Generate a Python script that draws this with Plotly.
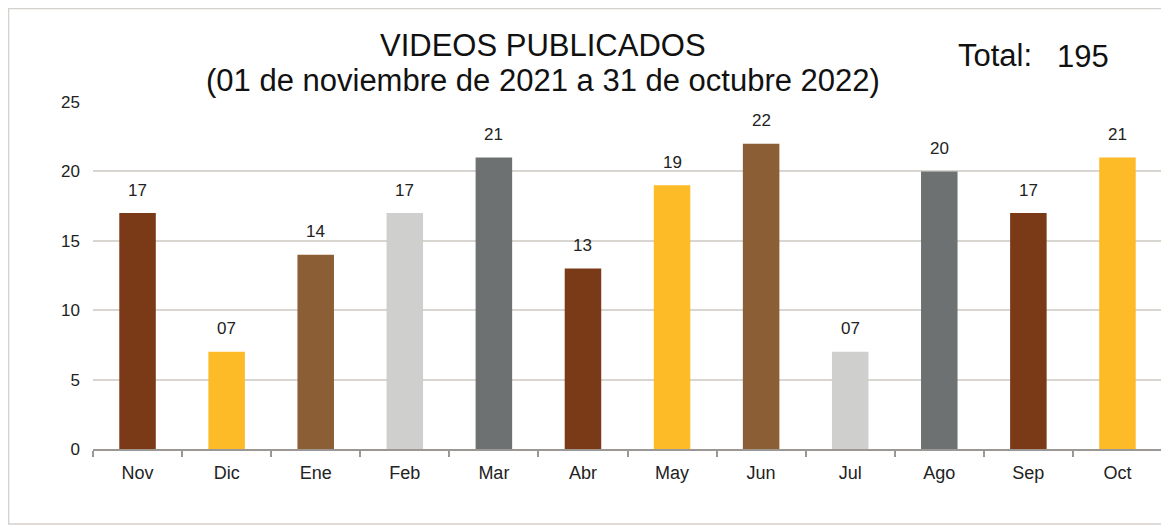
import plotly.graph_objects as go

months = ["Nov", "Dic", "Ene", "Feb", "Mar", "Abr", "May", "Jun", "Jul", "Ago", "Sep", "Oct"]
videos = [17, 7, 14, 17, 21, 13, 19, 22, 7, 20, 17, 21]
bar_colors = ["#7A3A17", "#FDBB27", "#8B5E35", "#CFCFCD", "#6E7171", "#7A3A17",
              "#FDBB27", "#8B5E35", "#CFCFCD", "#6E7171", "#7A3A17", "#FDBB27"]
title_line1 = "VIDEOS PUBLICADOS"
title_line2 = "(01 de noviembre de 2021 a 31 de octubre 2022)"
total_label = "Total:"
total_value = "195"
y_ticks = [0, 5, 10, 15, 20, 25]

FONT = "Liberation Sans, Arial, sans-serif"
OFF = 8  # page body margin
W, H = 1169 - OFF, 527 - OFF
L, R, T, B = 93 - OFF, 7, 102 - OFF, 78
PW, PH = W - L - R, H - T - B


def px(x):
    return (x - OFF - L) / PW


def py(y):
    return (H - B - (y - OFF)) / PH


fig = go.Figure(go.Bar(
    x=months, y=videos, marker=dict(color=bar_colors, line=dict(width=0)),
    width=0.41, hoverinfo="x+y",
))

annotations = []
for m, v in zip(months, videos):
    annotations.append(dict(x=m, y=v, xref="x", yref="y", text=f"{v:02d}",
                            showarrow=False, yanchor="middle", yshift=23,
                            font=dict(family=FONT, size=17, color="#222222")))

annotations += [
    dict(x=px(543), y=py(45), xref="paper", yref="paper", text=title_line1, showarrow=False,
         xanchor="center", yanchor="middle", font=dict(family=FONT, size=31, color="#111111")),
    dict(x=px(543), y=py(80), xref="paper", yref="paper", text=title_line2, showarrow=False,
         xanchor="center", yanchor="middle", font=dict(family=FONT, size=31, color="#111111")),
    dict(x=px(956), y=py(55), xref="paper", yref="paper", text=total_label, showarrow=False,
         xanchor="left", yanchor="middle", font=dict(family=FONT, size=31, color="#111111")),
    dict(x=px(1055), y=py(57), xref="paper", yref="paper", text=total_value, showarrow=False,
         xanchor="left", yanchor="middle", font=dict(family=FONT, size=31, color="#111111")),
]

fig.update_layout(
    width=W, height=H,
    margin=dict(l=L, r=R, t=T, b=B),
    paper_bgcolor="white", plot_bgcolor="white",
    showlegend=False,
    annotations=annotations,
    shapes=[dict(type="rect", xref="paper", yref="paper",
                 x0=px(8.5), x1=px(1164), y0=py(524), y1=py(8.5),
                 line=dict(color="#D4D0CC", width=1.5), layer="below")],
    xaxis=dict(
        type="category", showline=True, linecolor="#9A9794", linewidth=1.5,
        ticks="outside", tickson="boundaries", ticklen=6, tickcolor="#9A9794", tickwidth=1.5,
        tickfont=dict(family=FONT, size=18, color="#222222"), ticklabelstandoff=7,
        showgrid=False, range=[-0.5, 11.5], fixedrange=True,
    ),
    yaxis=dict(
        range=[0, 25], tickvals=y_ticks, showgrid=True, gridcolor="#D9D5D1", gridwidth=1.5,
        zeroline=False, showline=False, ticks="", ticklabelstandoff=12,
        tickfont=dict(family=FONT, size=17, color="#222222"), fixedrange=True,
    ),
)

fig.write_html("out.html")
